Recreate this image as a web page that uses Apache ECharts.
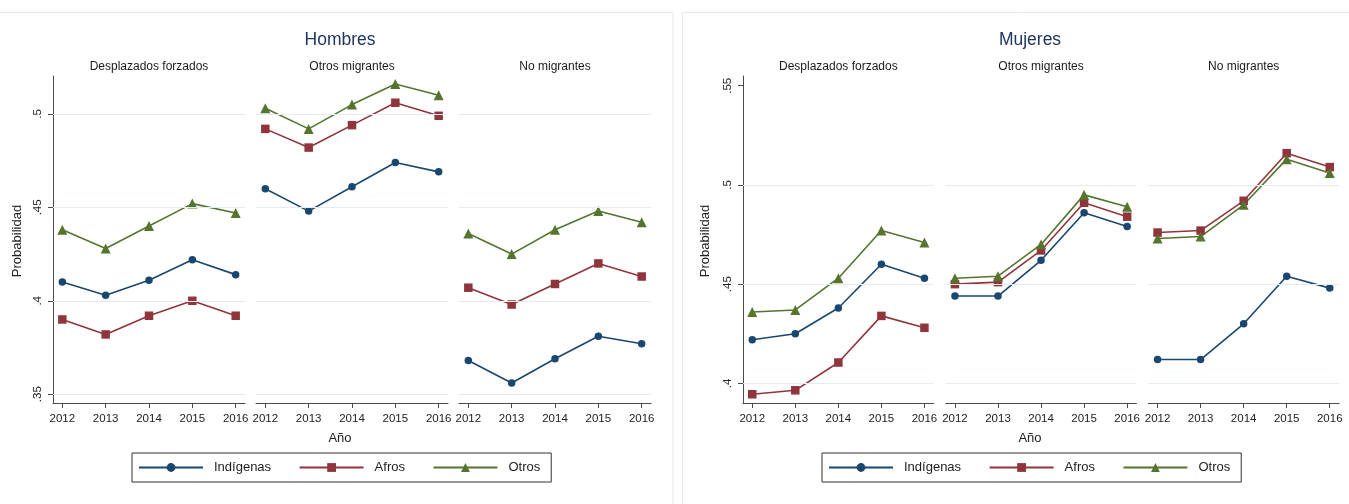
<!DOCTYPE html>
<html>
<head>
<meta charset="utf-8">
<script src="https://cdn.jsdelivr.net/npm/echarts@6/dist/echarts.min.js"></script>
<style>
  html, body { margin: 0; padding: 0; background: #fff; }
  #chart { width: 1349px; height: 504px; }
</style>
</head>
<body>
<div id="chart"></div>
<script>
// Predicted probability by year, ethnic group and migration status
const years = [2012, 2013, 2014, 2015, 2016];
const groups = ['Desplazados forzados', 'Otros migrantes', 'No migrantes'];
const seriesNames = ['Indígenas', 'Afros', 'Otros'];

// Hombres: one row per migration group
const hombresIndigenas = [
  [0.410, 0.403, 0.411, 0.422, 0.414],
  [0.460, 0.448, 0.461, 0.474, 0.469],
  [0.368, 0.356, 0.369, 0.381, 0.377]
];
const hombresAfros = [
  [0.390, 0.382, 0.392, 0.400, 0.392],
  [0.492, 0.482, 0.494, 0.506, 0.499],
  [0.407, 0.398, 0.409, 0.420, 0.413]
];
const hombresOtros = [
  [0.438, 0.428, 0.440, 0.452, 0.447],
  [0.503, 0.492, 0.505, 0.516, 0.510],
  [0.436, 0.425, 0.438, 0.448, 0.442]
];

// Mujeres: one row per migration group
const mujeresIndigenas = [
  [0.422, 0.425, 0.438, 0.460, 0.453],
  [0.444, 0.444, 0.462, 0.486, 0.479],
  [0.412, 0.412, 0.430, 0.454, 0.448]
];
const mujeresAfros = [
  [0.3945, 0.3965, 0.4105, 0.434, 0.428],
  [0.450, 0.451, 0.467, 0.491, 0.484],
  [0.476, 0.477, 0.492, 0.516, 0.509]
];
const mujeresOtros = [
  [0.436, 0.437, 0.453, 0.477, 0.471],
  [0.453, 0.454, 0.470, 0.495, 0.489],
  [0.473, 0.474, 0.490, 0.513, 0.506]
];

// Axis ticks and grid lines
const hombresTicks = [0.35, 0.40, 0.45, 0.50];
const hombresGrid = [0.35, 0.40, 0.45, 0.50];
const mujeresTicks = [0.40, 0.45, 0.50, 0.55];
const mujeresGrid = [0.40, 0.45, 0.50];

const COLORS = ['#1a476f', '#90353b', '#55752f'];
const SYMBOLS = ['circle', 'rect', 'triangle'];
const SYMBOL_SIZES = [7.5, 8.5, 10];
const FONT = '"Liberation Sans", Arial, sans-serif';
const AXIS_COLOR = '#4a4a4a';
const GRID_COLOR = '#e4ecef';

const panels = [
  {
    title: 'Hombres', centerX: 340, lefts: [53, 256, 459], width: 192,
    yMin: 0.3453, yMax: 0.5203, ticks: hombresTicks, gridVals: hombresGrid,
    data: [hombresIndigenas, hombresAfros, hombresOtros],
    legendLeft: 132, yNameX: 17
  },
  {
    title: 'Mujeres', centerX: 1030, lefts: [743, 945.7, 1148.3], width: 190.7,
    yMin: 0.3901, yMax: 0.5549, ticks: mujeresTicks, gridVals: mujeresGrid,
    data: [mujeresIndigenas, mujeresAfros, mujeresOtros],
    legendLeft: 822, yNameX: 705
  }
];

const TOP = 76, HEIGHT = 327;

const grid = [], xAxis = [], yAxis = [], series = [], graphic = [], legend = [];

function stataNum(v) {
  return String(Math.round(v * 100) / 100).replace(/^0/, '');
}

// chart frames
graphic.push({
  type: 'rect', silent: true, z: 0,
  shape: { x: -1, y: 12.5, width: 674, height: 500 },
  style: { fill: 'none', stroke: '#e6eaea', lineWidth: 1 }
});
graphic.push({
  type: 'rect', silent: true, z: 0,
  shape: { x: 682.5, y: 12.5, width: 670, height: 500 },
  style: { fill: 'none', stroke: '#e6eaea', lineWidth: 1 }
});

panels.forEach((p) => {
  graphic.push({
    type: 'text', silent: true,
    style: { text: p.title, x: p.centerX, y: 40, align: 'center', verticalAlign: 'middle',
             font: '17.5px ' + FONT, fill: '#1f3560' }
  });
  graphic.push({
    type: 'text', silent: true,
    style: { text: 'Año', x: p.centerX, y: 438, align: 'center', verticalAlign: 'middle',
             font: '13px ' + FONT, fill: '#222' }
  });
  graphic.push({
    type: 'text', silent: true, x: p.yNameX, y: 241, rotation: Math.PI / 2,
    style: { text: 'Probabilidad', x: 0, y: 0, align: 'center', verticalAlign: 'middle',
             font: '13px ' + FONT, fill: '#222' }
  });

  p.lefts.forEach((left, gi) => {
    const idx = grid.length;
    grid.push({ left: left, top: TOP, width: p.width, height: HEIGHT, containLabel: false });
    graphic.push({
      type: 'text', silent: true,
      style: { text: groups[gi], x: left + p.width / 2, y: 67, align: 'center', verticalAlign: 'middle',
               font: '12px ' + FONT, fill: '#1a1a1a' }
    });

    xAxis.push({
      type: 'value', gridIndex: idx, min: 2011.785, max: 2016.215,
      axisLine: { show: true, lineStyle: { color: AXIS_COLOR, width: 1 } },
      axisTick: { show: true, customValues: years, length: 5, lineStyle: { color: AXIS_COLOR } },
      axisLabel: { show: true, customValues: years, formatter: v => String(v), margin: 10,
                   fontSize: 11.5, fontFamily: FONT, color: '#222' },
      splitLine: { show: false }
    });

    const first = gi === 0;
    yAxis.push({
      type: 'value', gridIndex: idx, min: p.yMin, max: p.yMax,
      axisLine: { show: first, onZero: false, lineStyle: { color: AXIS_COLOR, width: 1 } },
      axisTick: { show: first, customValues: p.ticks, length: 5, lineStyle: { color: AXIS_COLOR } },
      axisLabel: { show: first, customValues: p.ticks, rotate: 90, margin: 9, formatter: stataNum,
                   fontSize: 11.5, fontFamily: FONT, color: '#222' },
      splitLine: { show: false }
    });

    // horizontal grid lines of the panel
    series.push({
      type: 'line', name: 'grid', xAxisIndex: idx, yAxisIndex: idx, data: [], silent: true, z: 1,
      markLine: {
        silent: true, symbol: 'none', animation: false,
        label: { show: false },
        lineStyle: { color: GRID_COLOR, width: 1.2, type: 'solid' },
        emphasis: { disabled: true },
        data: p.gridVals.map(v => ({ yAxis: v }))
      }
    });

    seriesNames.forEach((name, si) => {
      series.push({
        type: 'line', name: name, xAxisIndex: idx, yAxisIndex: idx, z: 3,
        data: years.map((y, k) => [y, p.data[si][gi][k]]),
        symbol: SYMBOLS[si], symbolSize: SYMBOL_SIZES[si], showSymbol: true,
        itemStyle: { color: COLORS[si] },
        lineStyle: { color: COLORS[si], width: 1.6 },
        emphasis: { disabled: true },
        animation: false
      });
    });
  });

  legend.push({
    data: seriesNames, left: p.legendLeft, top: 453, orient: 'horizontal',
    itemWidth: 64, itemHeight: 11, itemGap: 27.5,
    padding: [8, 11, 8, 6],
    borderColor: '#333', borderWidth: 1, borderRadius: 0,
    textStyle: { fontSize: 13, fontFamily: FONT, color: '#222', padding: [0, 0, 0, 6] },
    selectedMode: false
  });
});

const chart = echarts.init(document.getElementById('chart'), null, { renderer: 'canvas' });
chart.setOption({
  backgroundColor: '#ffffff',
  animation: false,
  textStyle: { fontFamily: FONT },
  grid, xAxis, yAxis, series, legend, graphic
});
</script>
</body>
</html>
